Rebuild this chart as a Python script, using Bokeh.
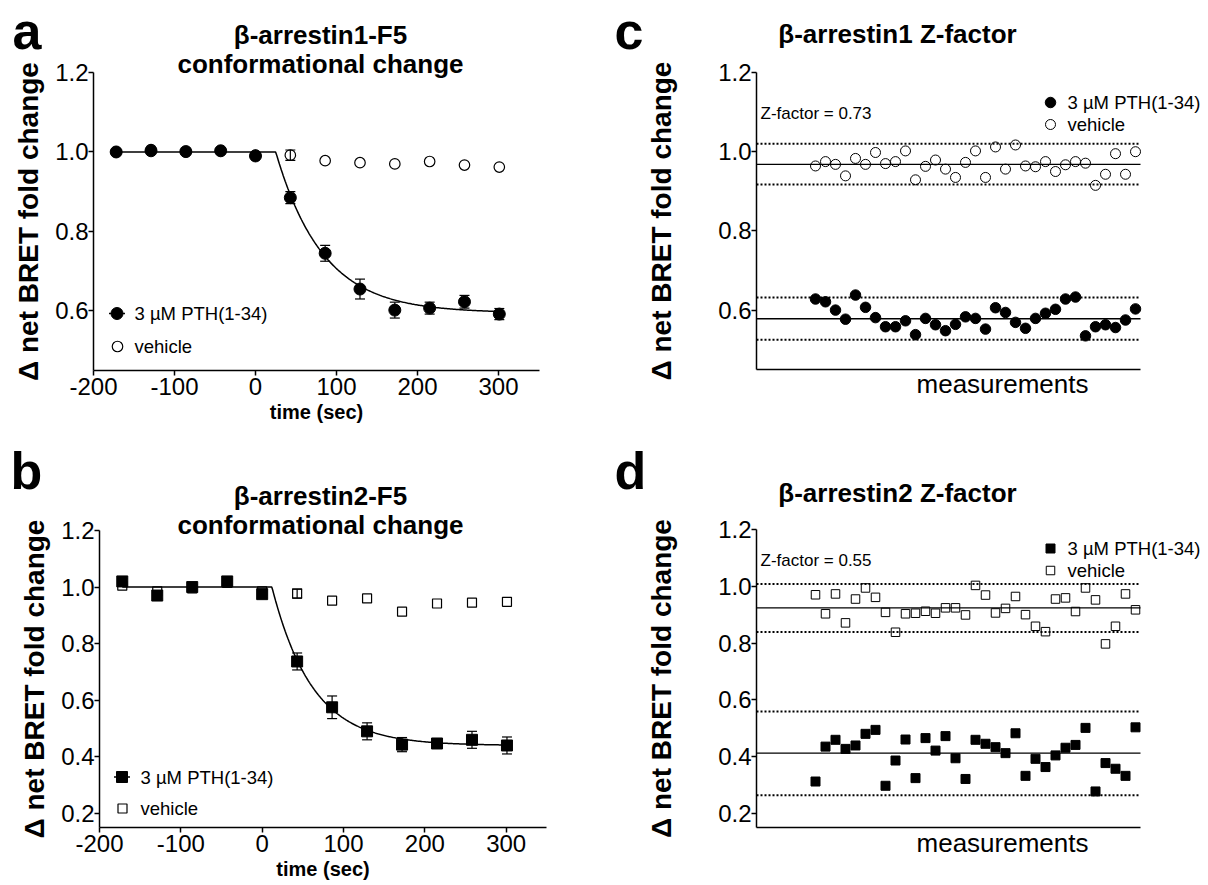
import numpy as np
from bokeh.plotting import figure
from bokeh.models import (Range1d, FixedTicker, Label, Whisker, TeeHead,
                          ColumnDataSource, NumeralTickFormatter)
from bokeh.layouts import row, column
from bokeh.embed import file_html
from bokeh.resources import INLINE

FONT = "Liberation Sans"

# ---------------- data ----------------
time_s = [-172, -129, -86, -43, 0, 43, 86, 129, 172, 215, 258, 301]

a_pth = [1.000, 1.003, 1.001, 1.003, 0.990, 0.885, 0.745, 0.655, 0.602, 0.607, 0.623, 0.592]
a_pth_err = [0.004, 0.005, 0.004, 0.004, 0.006, 0.015, 0.020, 0.025, 0.020, 0.015, 0.016, 0.014]
a_veh = [1.000, 1.006, 1.000, 1.003, 0.992, 0.992, 0.978, 0.973, 0.970, 0.976, 0.967, 0.962]
a_veh_err = [0, 0, 0, 0, 0, 0.013, 0, 0, 0, 0, 0, 0]
a_fit = dict(t0=25.0, plateau=0.595, k=0.0172)

b_pth = [1.020, 0.970, 1.000, 1.020, 0.975, 0.737, 0.575, 0.490, 0.443, 0.447, 0.460, 0.440]
b_pth_err = [0.010, 0.012, 0.010, 0.010, 0.012, 0.030, 0.040, 0.030, 0.025, 0.015, 0.030, 0.030]
b_veh = [1.005, 0.985, 0.995, 1.015, 0.985, 0.977, 0.952, 0.960, 0.913, 0.942, 0.945, 0.948]
b_veh_err = [0, 0, 0, 0, 0, 0.016, 0, 0, 0, 0, 0, 0]
b_fit = dict(t0=12.0, plateau=0.440, k=0.0200)

c_pth = [0.628, 0.621, 0.600, 0.577, 0.638, 0.607, 0.581, 0.558, 0.558, 0.573, 0.538,
         0.579, 0.563, 0.548, 0.564, 0.583, 0.579, 0.552, 0.606, 0.594, 0.569, 0.554,
         0.579, 0.592, 0.602, 0.628, 0.633, 0.535, 0.558, 0.563, 0.556, 0.575, 0.603]
c_veh = [0.964, 0.975, 0.968, 0.939, 0.983, 0.968, 0.998, 0.970, 0.975, 1.002, 0.929,
         0.963, 0.979, 0.956, 0.935, 0.973, 1.002, 0.935, 1.012, 0.956, 1.017, 0.964,
         0.962, 0.975, 0.950, 0.967, 0.975, 0.971, 0.915, 0.943, 0.995, 0.943, 1.000]
c_pth_lines = [0.578, 0.632, 0.525]   # mean, mean+3SD, mean-3SD
c_veh_lines = [0.968, 1.020, 0.917]
c_zfactor = "Z-factor = 0.73"

d_pth = [0.312, 0.435, 0.459, 0.427, 0.439, 0.480, 0.494, 0.297, 0.386, 0.460, 0.324,
         0.465, 0.421, 0.472, 0.394, 0.321, 0.459, 0.445, 0.433, 0.412, 0.482, 0.332,
         0.392, 0.363, 0.404, 0.431, 0.441, 0.501, 0.277, 0.377, 0.357, 0.332, 0.503]
d_veh = [0.970, 0.903, 0.973, 0.871, 0.955, 0.994, 0.961, 0.908, 0.838, 0.903, 0.905,
         0.912, 0.905, 0.924, 0.924, 0.899, 1.003, 0.969, 0.906, 0.922, 0.964, 0.900,
         0.859, 0.840, 0.955, 0.959, 0.911, 0.994, 0.952, 0.797, 0.859, 0.973, 0.917]
d_pth_lines = [0.412, 0.559, 0.264]
d_veh_lines = [0.924, 1.008, 0.839]
d_zfactor = "Z-factor = 0.55"

time_ticks = [-200, -100, 0, 100, 200, 300]
time_bounds = (-200, 350)
yticks_top = [0.6, 0.8, 1.0, 1.2]
yticks_bottom = [0.2, 0.4, 0.6, 0.8, 1.0, 1.2]

legend_pth = "3 µM PTH(1-34)"
legend_veh = "vehicle"
ylabel = "Δ net BRET fold change"


# ---------------- geometry helpers (pixel layout of each panel) ----------------
class Geo:
    def __init__(self, W, H, x0px, x0val, xppu, y0px, y0val, yppu):
        self.W, self.H = W, H
        self.x0px, self.x0val, self.xppu = x0px, x0val, xppu
        self.y0px, self.y0val, self.yppu = y0px, y0val, yppu

    def x(self, fx):
        return self.x0val + (fx - self.x0px) / self.xppu

    def y(self, fy):
        return self.y0val - (fy - self.y0px) / self.yppu


def make_fig(g, xbounds, ybounds, xticks, yticks, ylab_standoff):
    p = figure(width=g.W, height=g.H,
               x_range=Range1d(g.x(0), g.x(g.W)), y_range=Range1d(g.y(g.H), g.y(0)),
               output_backend="svg", toolbar_location=None,
               min_border=0, min_border_left=0, min_border_right=0,
               min_border_top=0, min_border_bottom=0)
    p.outline_line_color = None
    p.grid.visible = False
    p.background_fill_color = "white"
    p.border_fill_color = "white"
    xa, ya = p.xaxis[0], p.yaxis[0]
    xa.fixed_location = ybounds[0]
    ya.fixed_location = xbounds[0]
    xa.bounds = xbounds
    ya.bounds = ybounds
    xa.ticker = FixedTicker(ticks=xticks)
    ya.ticker = FixedTicker(ticks=yticks)
    for ax in (xa, ya):
        ax.axis_line_width = 1.5
        ax.axis_line_color = "black"
        ax.major_tick_line_width = 1.5
        ax.major_tick_line_color = "black"
        ax.major_tick_out = 5
        ax.major_tick_in = 0
        ax.minor_tick_line_color = None
        ax.major_label_text_font = FONT
        ax.major_label_text_font_size = "24px"
        ax.major_label_text_color = "black"
        ax.axis_label_text_color = "black"
        ax.axis_label_text_font = FONT
    ya.major_label_standoff = 0
    xa.major_label_standoff = 2
    ya.axis_label = ylabel
    ya.axis_label_text_font_size = "28px"
    ya.axis_label_text_font_style = "bold"
    ya.axis_label_standoff = ylab_standoff
    ya.formatter = NumeralTickFormatter(format="0.0")
    xa.formatter = NumeralTickFormatter(format="0")
    return p


def lab(p, g, fx, fy, text, size, bold=False, align="left"):
    # fy is the vertical centre of the text, in pixels from the figure top
    p.add_layout(Label(x=fx, y=g.H - fy, x_units="screen", y_units="screen", text=text,
                       text_font=FONT, text_font_size=size,
                       text_font_style="bold" if bold else "normal",
                       text_align=align, text_baseline="middle", text_color="black"))


def whiskers(p, x, y, err, size):
    keep = [i for i, e in enumerate(err) if e > 0]
    src = ColumnDataSource(dict(x=[x[i] for i in keep],
                                lo=[y[i] - err[i] for i in keep],
                                hi=[y[i] + err[i] for i in keep]))
    w = Whisker(source=src, base="x", lower="lo", upper="hi", dimension="height",
                line_color="black", line_width=1.2,
                upper_head=TeeHead(size=size, line_color="black", line_width=1.2),
                lower_head=TeeHead(size=size, line_color="black", line_width=1.2))
    p.add_layout(w)


def fit_curve(fit, t_first, t_last):
    t = np.linspace(t_first, t_last, 400)
    y = np.where(t < fit["t0"], 1.0,
                 fit["plateau"] + (1 - fit["plateau"]) * np.exp(-fit["k"] * (t - fit["t0"])))
    return t, y


LETTER_SIZE = "52px"


def time_panel(g, ybounds, yticks, pth, pth_err, veh, veh_err, fit, marker, sizes,
               letter, letter_pos, title1, title2, title_pos, leg):
    p = make_fig(g, time_bounds, ybounds, time_ticks, yticks, 8)
    p.xaxis.axis_label = "time (sec)"
    p.xaxis.axis_label_text_font_size = "20px"
    p.xaxis.axis_label_text_font_style = "bold"
    p.xaxis.axis_label_standoff = 3

    whiskers(p, time_s, veh, veh_err, 10)
    p.scatter(time_s, veh, marker=marker, size=sizes[1], fill_color=None,
              line_color="black", line_width=1.2)
    t, y = fit_curve(fit, time_s[0], time_s[-1])
    p.line(t, y, line_color="black", line_width=1.5)
    whiskers(p, time_s, pth, pth_err, 10)
    p.scatter(time_s, pth, marker=marker, size=sizes[0], fill_color="black",
              line_color="black")

    # hand-drawn Prism-style legend
    (mx1, my1), (mx2, my2), tx = leg
    p.line([g.x(mx1 - 8), g.x(mx1 + 8)], [g.y(my1), g.y(my1)], line_color="black",
           line_width=1.5)
    p.scatter([g.x(mx1)], [g.y(my1)], marker=marker, size=sizes[0], fill_color="black",
              line_color="black")
    p.scatter([g.x(mx2)], [g.y(my2)], marker=marker, size=sizes[1], fill_color=None,
              line_color="black", line_width=1.2)
    lab(p, g, tx, my1, legend_pth, "18.5px")
    lab(p, g, tx, my2, legend_veh, "18.5px")

    lab(p, g, letter_pos[0], letter_pos[1], letter, LETTER_SIZE, bold=True)
    lab(p, g, title_pos[0], title_pos[1], title1, "26px", bold=True, align="center")
    lab(p, g, title_pos[0], title_pos[1] + 29, title2, "26px", bold=True, align="center")
    return p


def z_panel(g, xaxis_end_px, ybounds, yticks, pth, veh, pth_lines, veh_lines, marker,
            sizes, letter, letter_pos, title, title_pos, zf, z_pos, leg, meas_pos):
    n = len(pth)
    idx = list(range(1, n + 1))
    xb = (g.x(g.x0px - 59), g.x(xaxis_end_px))
    p = make_fig(g, xb, ybounds, [], yticks, 38)
    p.xaxis.major_tick_line_color = None

    for lines in (pth_lines, veh_lines):
        p.segment(x0=[xb[0]], x1=[xb[1]], y0=[lines[0]], y1=[lines[0]],
                  line_color="black", line_width=1.4)
        p.segment(x0=[xb[0]] * 2, x1=[xb[1]] * 2, y0=lines[1:], y1=lines[1:],
                  line_color="black", line_width=2, line_dash="2 2")

    p.scatter(idx, veh, marker=marker, size=sizes[1], fill_color=None,
              line_color="black", line_width=1)
    p.scatter(idx, pth, marker=marker, size=sizes[0], fill_color="black",
              line_color="black")

    (mx1, my1), (mx2, my2), tx = leg
    p.scatter([g.x(mx1)], [g.y(my1)], marker=marker, size=sizes[0], fill_color="black",
              line_color="black")
    p.scatter([g.x(mx2)], [g.y(my2)], marker=marker, size=sizes[1], fill_color=None,
              line_color="black", line_width=1)
    lab(p, g, tx, my1, legend_pth, "18.5px")
    lab(p, g, tx, my2, legend_veh, "18.5px")

    lab(p, g, z_pos[0], z_pos[1], zf, "17px")
    lab(p, g, letter_pos[0], letter_pos[1], letter, LETTER_SIZE, bold=True)
    lab(p, g, title_pos[0], title_pos[1], title, "26px", bold=True, align="center")
    lab(p, g, meas_pos[0], meas_pos[1], "measurements", "26px", align="center")
    return p


# panel geometry: figure size, pixel of a reference value on each axis, pixels per unit
ga = Geo(608, 440, 93, -200, 0.81, 72, 1.2, 298 / 0.75)
gb = Geo(608, 443, 99, -200, 0.8133, 90, 1.2, 297 / 1.05)
gc = Geo(598, 440, 207, 1, 10.0, 72, 1.2, 297 / 0.75)
gd = Geo(598, 443, 207, 1, 10.0, 89, 1.2, 298 / 1.05)

pa = time_panel(ga, (0.45, 1.2), yticks_top, a_pth, a_pth_err, a_veh, a_veh_err, a_fit,
                "circle", (12, 10.5), "a", (12, 30),
                "β-arrestin1-F5", "conformational change", (320, 34),
                ((116.5, 313), (117, 346), 134))

pb = time_panel(gb, (0.15, 1.2), yticks_bottom, b_pth, b_pth_err, b_veh, b_veh_err, b_fit,
                "square", (11, 9), "b", (10, 30),
                "β-arrestin2-F5", "conformational change", (320, 55),
                ((121.5, 336.5), (122, 368), 140))

pc = z_panel(gc, 532, (0.45, 1.2), yticks_top, c_pth, c_veh, c_pth_lines, c_veh_lines,
             "circle", (10.5, 10), "c", (6, 30), "β-arrestin1 Z-factor", (289, 33),
             c_zfactor, (152, 113), ((442, 102), (442, 124), 459), (394, 383))

pd = z_panel(gd, 532, (0.15, 1.2), yticks_bottom, d_pth, d_veh, d_pth_lines, d_veh_lines,
             "square", (9, 8.5), "d", (6, 30), "β-arrestin2 Z-factor", (289, 52),
             d_zfactor, (152, 120), ((442, 108), (442, 130), 459), (394, 402))

layout = row(column(pa, pb), column(pc, pd))
open("out.html", "w").write(file_html(layout, INLINE))
